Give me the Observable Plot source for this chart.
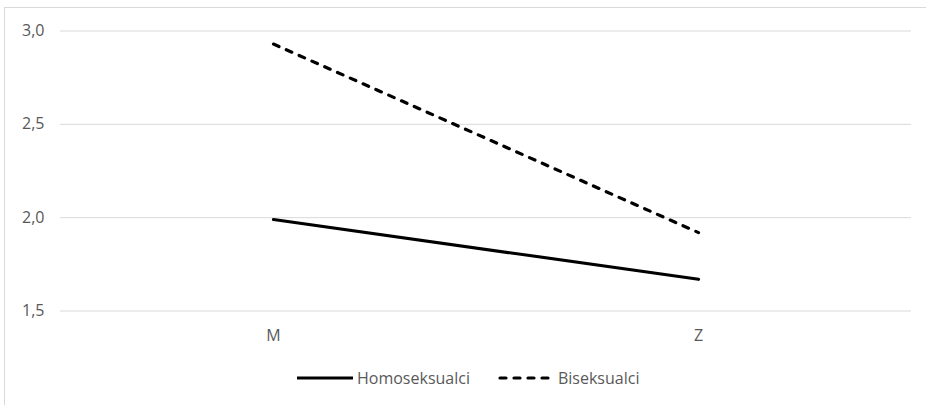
<!DOCTYPE html>
<html>
<head>
<meta charset="utf-8">
<script src="https://cdn.jsdelivr.net/npm/d3@7"></script>
<script src="https://cdn.jsdelivr.net/npm/@observablehq/plot@0.6"></script>
<style>
  body { margin: 0; background: #fff; }
  #frame { position: relative; width: 926px; height: 405px; overflow: hidden; font-family: "Open Sans", sans-serif; }
  #border { position: absolute; left: 4px; top: 7px; width: 960px; height: 440px; border: 1px solid #d9d9d9; }
  #chart { position: absolute; left: 0; top: 0; }
  #legend { position: absolute; left: 297px; top: 366px; height: 24px; display: flex; align-items: center; font-size: 16px; color: #595959; }
  .item { display: flex; align-items: center; margin-right: 28px; }
  .item span { margin-left: 4px; }
</style>
</head>
<body>
<div id="frame">
  <div id="border"></div>
  <div id="chart"></div>
  <div id="legend"></div>
</div>
<script>
// Categories on the x axis and the two series (mean scores)
const categories = ["M", "Z"];
const homoseksualci = [1.99, 1.67];
const biseksualci = [2.93, 1.92];
const yTicks = [1.5, 2.0, 2.5, 3.0];
const seriesNames = ["Homoseksualci", "Biseksualci"];

const rows = [
  ...categories.map((c, i) => ({group: seriesNames[0], cat: c, value: homoseksualci[i]})),
  ...categories.map((c, i) => ({group: seriesNames[1], cat: c, value: biseksualci[i]}))
];

const comma = d => d.toFixed(1).replace(".", ",");
const dash = {[seriesNames[0]]: null, [seriesNames[1]]: "6,8"};

const plot = Plot.plot({
  width: 926,
  height: 365,
  marginTop: 30.5,
  marginBottom: 54.5,
  marginLeft: 60,
  marginRight: 15,
  style: {fontFamily: "Open Sans, sans-serif", fontSize: "16px", color: "#595959", background: "transparent"},
  x: {type: "point", domain: categories, padding: 0.5},
  y: {domain: [1.5, 3.0]},
  marks: [
    Plot.gridY(yTicks, {stroke: "#d9d9d9", strokeOpacity: 1, strokeWidth: 1}),
    Plot.axisY(yTicks, {tickSize: 0, tickPadding: 16, tickFormat: comma, label: null, fontSize: 16}),
    Plot.axisX({tickSize: 0, tickPadding: 19, label: null, fontSize: 16}),
    ...seriesNames.map(name =>
      Plot.line(rows.filter(r => r.group === name), {
        x: "cat", y: "value",
        stroke: "#000", strokeWidth: 3.2,
        strokeDasharray: dash[name],
        strokeLinecap: "round"
      })
    )
  ]
});
document.getElementById("chart").appendChild(plot);

// Legend below the chart
const legend = document.getElementById("legend");
seriesNames.forEach(name => {
  const item = document.createElement("div");
  item.className = "item";
  const sw = dash[name] ? `stroke-dasharray="6,8" stroke-linecap="round"` : "";
  item.innerHTML = `<svg width="56" height="10"><line x1="${dash[name] ? 2 : 0}" y1="5" x2="${dash[name] ? 54 : 56}" y2="5" stroke="#000" stroke-width="3.2" ${sw}></line></svg><span>${name}</span>`;
  legend.appendChild(item);
});
</script>
</body>
</html>
